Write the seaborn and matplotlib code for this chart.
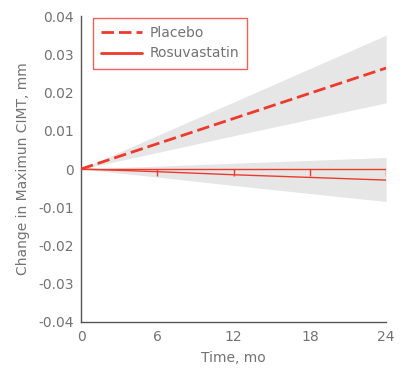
import matplotlib
matplotlib.use("Agg")
import matplotlib.pyplot as plt
import seaborn as sns
import pandas as pd
from matplotlib.lines import Line2D

months = [0, 6, 12, 18, 24]
placebo = [0.0, 0.0066, 0.0132, 0.0198, 0.0264]
placebo_hi = [0.0, 0.00875, 0.0175, 0.02625, 0.035]
placebo_lo = [0.0, 0.0043, 0.0087, 0.0130, 0.0173]
rosu = [0.0, -0.0007, -0.0015, -0.0022, -0.0029]
rosu_hi = [0.0, 0.00075, 0.0015, 0.00225, 0.003]
rosu_lo = [0.0, -0.0021, -0.0043, -0.0064, -0.0085]
ref_ticks = [6, 12, 18, 24]
yticks = [-0.04, -0.03, -0.02, -0.01, 0, 0.01, 0.02, 0.03, 0.04]
ytick_labels = ["-0.04", "-0.03", "-0.02", "-0.01", "0", "0.01", "0.02", "0.03", "0.04"]
xticks = [0, 6, 12, 18, 24]

sns.set_style("white")
plt.rcParams['font.family'] = ['DejaVu Sans']

RED = "#ee3a2c"
GRAY = "#737373"
BAND = "#e6e6e6"

fig = plt.figure(figsize=(4.01, 3.69), dpi=100)
ax = fig.add_axes([0.202, 0.1274, 0.761, 0.8292])

ax.fill_between(months, placebo_lo, placebo_hi, color=BAND, lw=0, zorder=1)
ax.fill_between(months, rosu_lo, rosu_hi, color=BAND, lw=0, zorder=1)

df = pd.DataFrame({"m": months, "p": placebo, "r": rosu})
sns.lineplot(data=df, x="m", y="p", ax=ax, color=RED, lw=2.0, zorder=3)
ax.lines[-1].set_dashes((4.5, 1.8))
sns.lineplot(data=df, x="m", y="r", ax=ax, color=RED, lw=1.0, zorder=3)

ax.plot([0, 24], [0, 0], color=RED, lw=1.0, zorder=2)
ax.vlines(ref_ticks, -0.0017, 0, color=RED, lw=1.0, zorder=2)

ax.set_xlim(0, 24)
ax.set_ylim(-0.04, 0.04)
ax.set_xticks(xticks)
ax.set_xticklabels([str(x) for x in xticks])
ax.set_yticks(yticks)
ax.set_yticklabels(ytick_labels)
ax.tick_params(axis="both", colors="#555555", labelsize=10, length=4, width=1,
               direction="out", pad=2, labelcolor=GRAY)
ax.tick_params(axis="y", pad=1)
for s in ["top", "right"]:
    ax.spines[s].set_visible(False)
for s in ["left", "bottom"]:
    ax.spines[s].set_color("#555555")
    ax.spines[s].set_linewidth(1.0)
ax.set_xlabel("Time, mo", color=GRAY, fontsize=10, labelpad=5)
ax.set_ylabel("Change in Maximun CIMT, mm", color=GRAY, fontsize=10, labelpad=6)

handles = [Line2D([], [], color=RED, lw=2.0, dashes=(4.5, 1.8)),
           Line2D([], [], color=RED, lw=2.0)]
leg = ax.legend(handles, ["Placebo", "Rosuvastatin"], loc="upper left",
                bbox_to_anchor=(0.039, 0.994), frameon=True, fancybox=False,
                edgecolor=RED, fontsize=10, handlelength=2.95, handletextpad=0.5,
                borderpad=0.6, labelspacing=0.45, borderaxespad=0)
leg.get_frame().set_linewidth(1.0)
for t in leg.get_texts():
    t.set_color(GRAY)

fig.savefig("out.png", dpi=100)
